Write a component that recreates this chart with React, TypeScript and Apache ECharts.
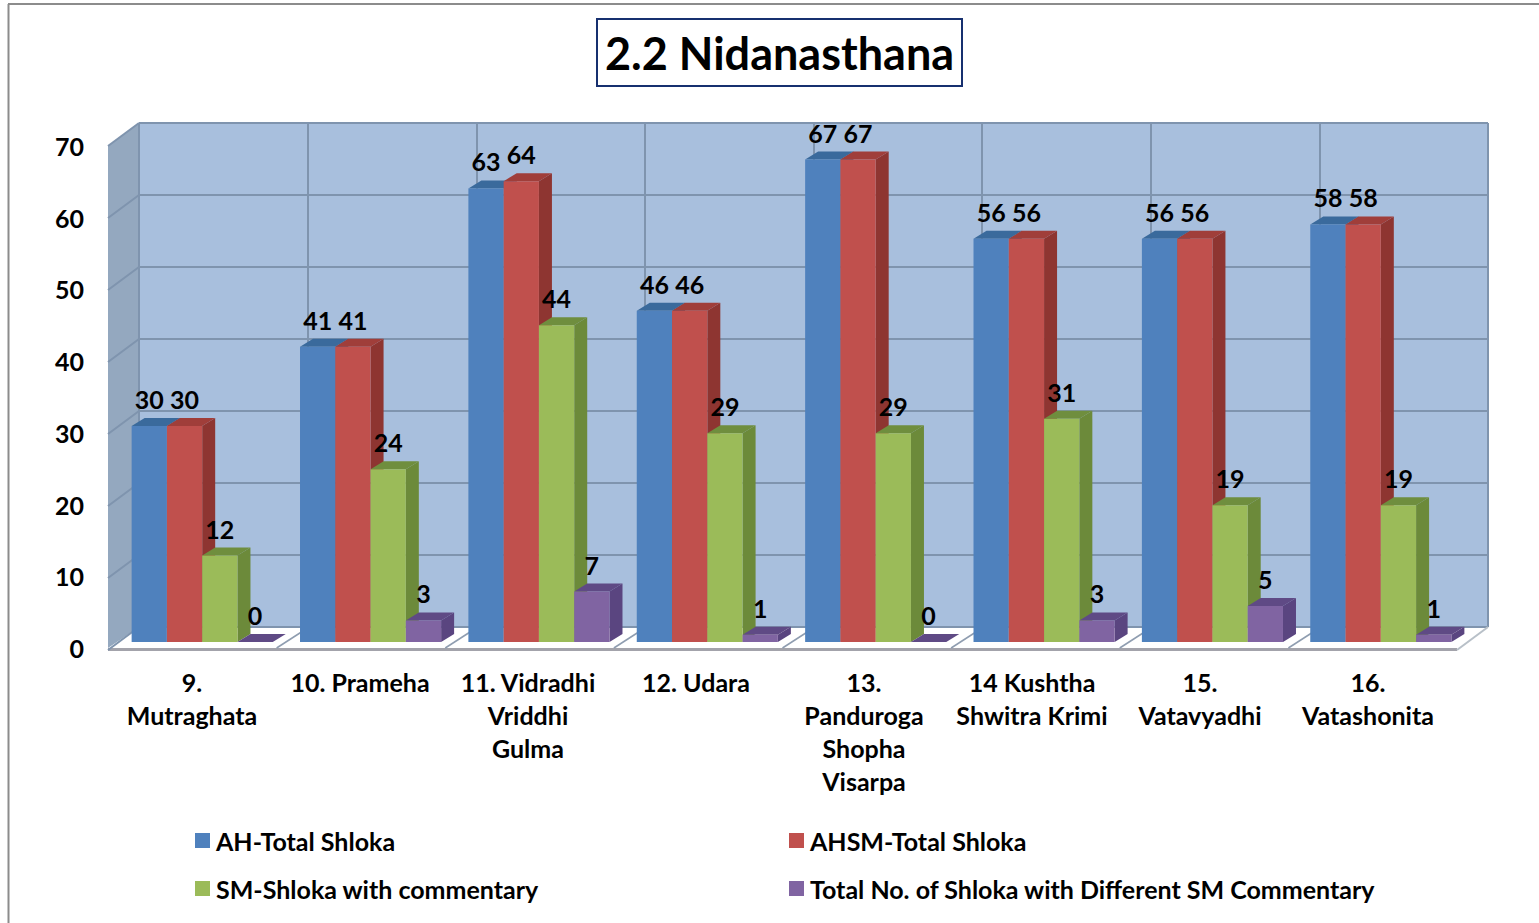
import React, { useEffect, useRef } from "react";
import * as echarts from "echarts";

const categories = [
  "9.\nMutraghata",
  "10. Prameha",
  "11. Vidradhi\nVriddhi\nGulma",
  "12. Udara",
  "13.\nPanduroga\nShopha\nVisarpa",
  "14 Kushtha\nShwitra Krimi",
  "15.\nVatavyadhi",
  "16.\nVatashonita",
];
const ahTotal = [30, 41, 63, 46, 67, 56, 56, 58];
const ahsmTotal = [30, 41, 64, 46, 67, 56, 56, 58];
const smCommentary = [12, 24, 44, 29, 29, 31, 19, 19];
const differentSm = [0, 3, 7, 1, 0, 3, 5, 1];
const seriesNames = [
  "AH-Total Shloka",
  "AHSM-Total Shloka",
  "SM-Shloka with commentary",
  "Total No. of Shloka with Different SM Commentary",
];
const seriesValues = [ahTotal, ahsmTotal, smCommentary, differentSm];
const frontColors = ["#4f81bd", "#c0504d", "#9bbb59", "#8064a2"];
const sideColors = ["#35608f", "#8e3531", "#6c8a3a", "#5a4580"];
const topColors = ["#3a6a9c", "#a03e3a", "#6f8e3e", "#5f4a85"];
const valueTicks = [0, 10, 20, 30, 40, 50, 60, 70];

const FONT = "Lato, Carlito, sans-serif";
const DX = 13;
const DY = 8;
const WALL_LINE = "#7f94ae";

function renderBar(seriesIndex: number) {
  return (_params: any, api: any) => {
    const cat = api.value(0);
    const val = api.value(1);
    const top = api.coord([cat, val]);
    const base = api.coord([cat, 0]);
    const band = api.size([1, 0])[0];
    const w = band * 0.2095;
    const x0 = top[0] + (seriesIndex - 2) * w;
    const x1 = x0 + w;
    return {
      type: "group",
      children: [
        {
          type: "polygon",
          shape: { points: [[x1, top[1]], [x1 + DX, top[1] - DY], [x1 + DX, base[1] - DY], [x1, base[1]]] },
          style: { fill: sideColors[seriesIndex] },
        },
        {
          type: "polygon",
          shape: { points: [[x0, top[1]], [x0 + DX, top[1] - DY], [x1 + DX, top[1] - DY], [x1, top[1]]] },
          style: { fill: topColors[seriesIndex] },
        },
        {
          type: "rect",
          shape: { x: x0, y: top[1], width: w, height: base[1] - top[1] },
          style: { fill: frontColors[seriesIndex] },
        },
        {
          type: "text",
          z2: 100,
          style: {
            text: String(val),
            x: x0 + w / 2,
            y: top[1] - 27,
            align: "center",
            verticalAlign: "middle",
            fill: "#000",
            fontFamily: FONT,
            fontWeight: "bold",
            fontSize: 25,
          },
        },
      ],
    };
  };
}

export default function App() {
  const ref = useRef<HTMLDivElement>(null);
  useEffect(() => {
    document.body.style.margin = "0";
    document.body.style.overflow = "hidden";
    const chart = echarts.init(ref.current!, null, { renderer: "svg" });

    // 3D frame: [x, y] of the back wall's left edge and of the front edge
    const backL = 139, backR = 1488, backTop = 123, backBottom = 627;
    const frontL = 108, frontR = 1457, frontTop = 146, frontBottom = 650;
    const unit = (backBottom - backTop) / 70;
    const step = (backR - backL) / categories.length;

    const wallLines = valueTicks.map((t) => ({
      type: "line",
      z: 1,
      silent: true,
      shape: { x1: frontL, y1: frontBottom - t * unit, x2: backL, y2: backBottom - t * unit },
      style: { stroke: WALL_LINE, lineWidth: 2 },
    }));
    const floorLines = categories.slice(1).map((_, k) => ({
      type: "line",
      z: 1,
      silent: true,
      shape: {
        x1: frontL + step * (k + 1), y1: frontBottom - 2,
        x2: backL + step * (k + 1), y2: backBottom + 1,
      },
      style: { stroke: "#8f9db0", lineWidth: 1.5 },
    }));

    const legendBase = {
      top: 828, orient: "vertical", padding: 0, itemGap: 23, itemWidth: 15, itemHeight: 15, icon: "rect",
      textStyle: { fontFamily: FONT, fontWeight: "bold", fontSize: 25, color: "#000", lineHeight: 25, padding: [0, 0, 0, 1] },
    };

    chart.setOption({
      animation: false,
      backgroundColor: "#ffffff",
      title: {
        text: "2.2 Nidanasthana",
        left: 597,
        top: 19,
        padding: [9, 8, 8, 8],
        borderColor: "#17306f",
        borderWidth: 2,
        backgroundColor: "#fff",
        textStyle: { fontFamily: FONT, fontWeight: "bold", fontSize: 45, color: "#000", lineHeight: 50 },
      },
      legend: [
        { ...legendBase, left: 195, data: [seriesNames[0], seriesNames[2]] },
        { ...legendBase, left: 789, data: [seriesNames[1], seriesNames[3]] },
      ],
      grid: [
        // back wall
        { left: backL, top: backTop, width: backR - backL, height: backBottom - backTop, show: true, backgroundColor: "#a8bfdd", borderWidth: 0 },
        // plane of the bars
        { left: 118, top: 138, width: 1347, height: 504 },
        // front edge, holds the tick labels
        { left: 108, top: frontTop, width: 1344, height: 502 },
      ],
      xAxis: [
        {
          gridIndex: 0, type: "category", data: categories,
          axisLine: { show: false }, axisTick: { show: false }, axisLabel: { show: false },
          splitLine: { show: true, interval: 0, lineStyle: { color: WALL_LINE, width: 2 } },
        },
        { gridIndex: 1, type: "category", data: categories, show: false },
        {
          gridIndex: 2, type: "category", data: categories,
          axisLine: { show: false }, axisTick: { show: false },
          axisLabel: { interval: 0, margin: 17, fontFamily: FONT, fontWeight: "bold", fontSize: 25, color: "#000", lineHeight: 33, align: "center" },
        },
      ],
      yAxis: [
        {
          gridIndex: 0, type: "value", min: 0, max: 70, interval: 10,
          axisLine: { show: false }, axisTick: { show: false }, axisLabel: { show: false },
          splitLine: { show: true, lineStyle: { color: WALL_LINE, width: 2 } },
        },
        { gridIndex: 1, type: "value", min: 0, max: 70, interval: 10, show: false, splitLine: { show: false } },
        {
          gridIndex: 2, type: "value", min: 0, max: 70, interval: 10,
          axisLine: { show: false }, axisTick: { show: false }, splitLine: { show: false },
          axisLabel: { margin: 24, fontFamily: FONT, fontWeight: "bold", fontSize: 25, color: "#000" },
        },
      ],
      graphic: [
        { type: "line", z: 0, silent: true, shape: { x1: 8, y1: 4, x2: 1539, y2: 4 }, style: { stroke: "#8c8c8c", lineWidth: 2 } },
        { type: "line", z: 0, silent: true, shape: { x1: 8.5, y1: 4, x2: 8.5, y2: 923 }, style: { stroke: "#8c8c8c", lineWidth: 2 } },
        {
          type: "polygon", z: 0, silent: true,
          shape: { points: [[frontL, frontTop], [backL, backTop], [backL, backBottom], [frontL, frontBottom]] },
          style: { fill: "#94a8bf" },
        },
        {
          type: "polygon", z: 0, silent: true,
          shape: { points: [[backL, backBottom], [backR, backBottom], [frontR, frontBottom - 2], [frontL, frontBottom - 2]] },
          style: { fill: "#ffffff" },
        },
        {
          type: "rect", z: 1, silent: true,
          shape: { x: frontL, y: frontBottom - 2, width: frontR - frontL, height: 3 },
          style: { fill: "#a3a3ab" },
        },
        {
          type: "line", z: 1, silent: true,
          shape: { x1: frontR, y1: frontBottom, x2: backR, y2: backBottom },
          style: { stroke: "#b8c0c8", lineWidth: 2 },
        },
        {
          type: "line", z: 1, silent: true,
          shape: { x1: backL, y1: backTop, x2: backL, y2: backBottom },
          style: { stroke: WALL_LINE, lineWidth: 2 },
        },
        ...wallLines,
        ...floorLines,
      ],
      series: seriesNames.map((name, i) => ({
        name,
        type: "custom",
        xAxisIndex: 1,
        yAxisIndex: 1,
        z: 3 + i,
        clip: false,
        itemStyle: { color: frontColors[i] },
        encode: { x: 0, y: 1 },
        data: seriesValues[i].map((v, c) => [c, v]),
        renderItem: renderBar(i),
      })),
    });
    return () => chart.dispose();
  }, []);
  return <div ref={ref} style={{ width: 1539, height: 923 }} />;
}
